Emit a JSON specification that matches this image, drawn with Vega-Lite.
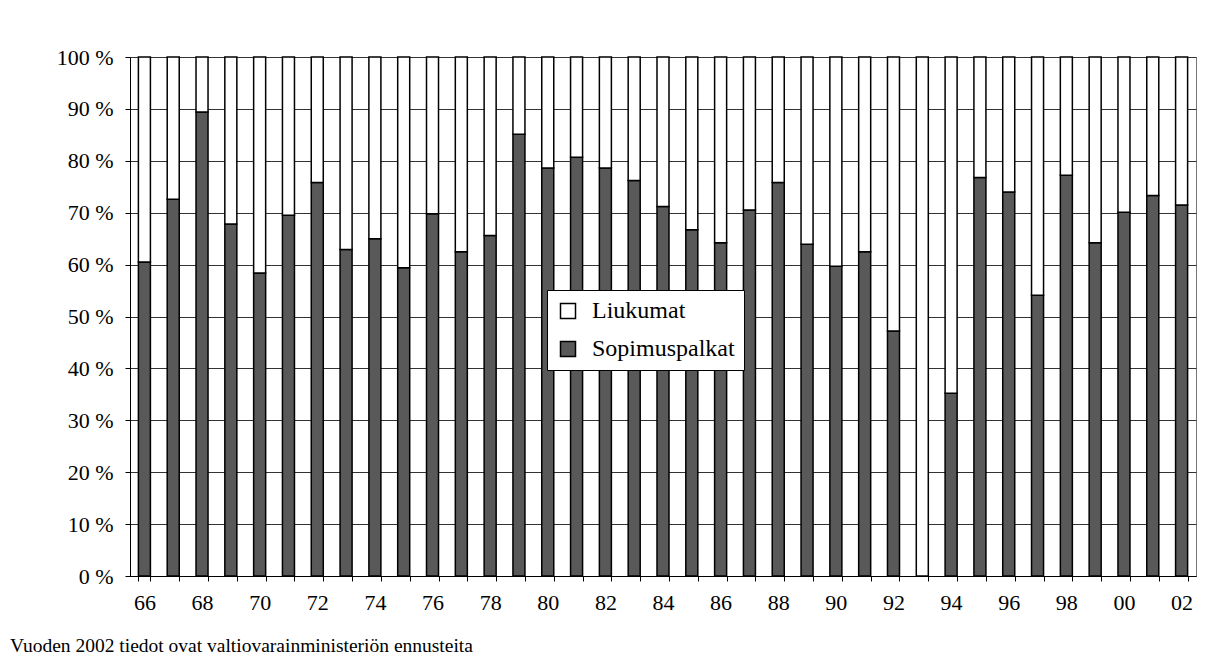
{
  "$schema": "https://vega.github.io/schema/vega-lite/v6.json",
  "width": 1066,
  "height": 519,
  "autosize": {"type": "none"},
  "padding": {"left": 130, "top": 57, "right": 33, "bottom": 91},
  "background": "white",
  "title": {
    "text": "Vuoden 2002 tiedot ovat valtiovarainministeriön ennusteita",
    "orient": "bottom",
    "anchor": "start",
    "frame": "group",
    "dx": -120,
    "offset": 24,
    "font": "Liberation Serif",
    "fontSize": 19.5,
    "fontWeight": "normal",
    "color": "black"
  },
  "data": {
    "values": [
      {"year": 1966, "series": "Sopimuspalkat", "value": 60.5}, {"year": 1966, "series": "Liukumat", "value": 39.5},
      {"year": 1967, "series": "Sopimuspalkat", "value": 72.6}, {"year": 1967, "series": "Liukumat", "value": 27.4},
      {"year": 1968, "series": "Sopimuspalkat", "value": 89.4}, {"year": 1968, "series": "Liukumat", "value": 10.6},
      {"year": 1969, "series": "Sopimuspalkat", "value": 67.8}, {"year": 1969, "series": "Liukumat", "value": 32.2},
      {"year": 1970, "series": "Sopimuspalkat", "value": 58.4}, {"year": 1970, "series": "Liukumat", "value": 41.6},
      {"year": 1971, "series": "Sopimuspalkat", "value": 69.5}, {"year": 1971, "series": "Liukumat", "value": 30.5},
      {"year": 1972, "series": "Sopimuspalkat", "value": 75.8}, {"year": 1972, "series": "Liukumat", "value": 24.2},
      {"year": 1973, "series": "Sopimuspalkat", "value": 62.9}, {"year": 1973, "series": "Liukumat", "value": 37.1},
      {"year": 1974, "series": "Sopimuspalkat", "value": 65.0}, {"year": 1974, "series": "Liukumat", "value": 35.0},
      {"year": 1975, "series": "Sopimuspalkat", "value": 59.4}, {"year": 1975, "series": "Liukumat", "value": 40.6},
      {"year": 1976, "series": "Sopimuspalkat", "value": 69.8}, {"year": 1976, "series": "Liukumat", "value": 30.2},
      {"year": 1977, "series": "Sopimuspalkat", "value": 62.5}, {"year": 1977, "series": "Liukumat", "value": 37.5},
      {"year": 1978, "series": "Sopimuspalkat", "value": 65.6}, {"year": 1978, "series": "Liukumat", "value": 34.4},
      {"year": 1979, "series": "Sopimuspalkat", "value": 85.1}, {"year": 1979, "series": "Liukumat", "value": 14.9},
      {"year": 1980, "series": "Sopimuspalkat", "value": 78.6}, {"year": 1980, "series": "Liukumat", "value": 21.4},
      {"year": 1981, "series": "Sopimuspalkat", "value": 80.7}, {"year": 1981, "series": "Liukumat", "value": 19.3},
      {"year": 1982, "series": "Sopimuspalkat", "value": 78.6}, {"year": 1982, "series": "Liukumat", "value": 21.4},
      {"year": 1983, "series": "Sopimuspalkat", "value": 76.2}, {"year": 1983, "series": "Liukumat", "value": 23.8},
      {"year": 1984, "series": "Sopimuspalkat", "value": 71.2}, {"year": 1984, "series": "Liukumat", "value": 28.8},
      {"year": 1985, "series": "Sopimuspalkat", "value": 66.7}, {"year": 1985, "series": "Liukumat", "value": 33.3},
      {"year": 1986, "series": "Sopimuspalkat", "value": 64.2}, {"year": 1986, "series": "Liukumat", "value": 35.8},
      {"year": 1987, "series": "Sopimuspalkat", "value": 70.5}, {"year": 1987, "series": "Liukumat", "value": 29.5},
      {"year": 1988, "series": "Sopimuspalkat", "value": 75.8}, {"year": 1988, "series": "Liukumat", "value": 24.2},
      {"year": 1989, "series": "Sopimuspalkat", "value": 63.9}, {"year": 1989, "series": "Liukumat", "value": 36.1},
      {"year": 1990, "series": "Sopimuspalkat", "value": 59.7}, {"year": 1990, "series": "Liukumat", "value": 40.3},
      {"year": 1991, "series": "Sopimuspalkat", "value": 62.5}, {"year": 1991, "series": "Liukumat", "value": 37.5},
      {"year": 1992, "series": "Sopimuspalkat", "value": 47.2}, {"year": 1992, "series": "Liukumat", "value": 52.8},
      {"year": 1993, "series": "Sopimuspalkat", "value": 0.0}, {"year": 1993, "series": "Liukumat", "value": 100.0},
      {"year": 1994, "series": "Sopimuspalkat", "value": 35.2}, {"year": 1994, "series": "Liukumat", "value": 64.8},
      {"year": 1995, "series": "Sopimuspalkat", "value": 76.8}, {"year": 1995, "series": "Liukumat", "value": 23.2},
      {"year": 1996, "series": "Sopimuspalkat", "value": 74.0}, {"year": 1996, "series": "Liukumat", "value": 26.0},
      {"year": 1997, "series": "Sopimuspalkat", "value": 54.1}, {"year": 1997, "series": "Liukumat", "value": 45.9},
      {"year": 1998, "series": "Sopimuspalkat", "value": 77.2}, {"year": 1998, "series": "Liukumat", "value": 22.8},
      {"year": 1999, "series": "Sopimuspalkat", "value": 64.2}, {"year": 1999, "series": "Liukumat", "value": 35.8},
      {"year": 2000, "series": "Sopimuspalkat", "value": 70.1}, {"year": 2000, "series": "Liukumat", "value": 29.9},
      {"year": 2001, "series": "Sopimuspalkat", "value": 73.3}, {"year": 2001, "series": "Liukumat", "value": 26.7},
      {"year": 2002, "series": "Sopimuspalkat", "value": 71.5}, {"year": 2002, "series": "Liukumat", "value": 28.5}
    ]
  },
  "mark": {"type": "bar", "stroke": "black", "strokeWidth": 1.5},
  "encoding": {
    "x": {
      "field": "year",
      "type": "ordinal",
      "scale": {"paddingInner": 0.583, "paddingOuter": 0.2915},
      "axis": {
        "title": null,
        "labelAngle": 0,
        "tickBand": "extent",
        "labelExpr": "datum.value % 2 == 0 ? slice(toString(datum.value), 2) : ''",
        "grid": false,
        "domainColor": "black",
        "tickColor": "black",
        "tickSize": 5,
        "labelPadding": 11,
        "labelFontSize": 22,
        "labelColor": "black"
      }
    },
    "y": {
      "field": "value",
      "type": "quantitative",
      "stack": "zero",
      "scale": {"domain": [0, 100], "nice": false},
      "axis": {
        "title": null,
        "values": [0, 10, 20, 30, 40, 50, 60, 70, 80, 90, 100],
        "labelExpr": "datum.value + ' %'",
        "grid": true,
        "gridColor": "#333333",
        "gridWidth": 1,
        "domainColor": "black",
        "tickColor": "black",
        "tickSize": 5,
        "labelPadding": 12,
        "labelFontSize": 22,
        "labelColor": "black"
      }
    },
    "color": {
      "field": "series",
      "type": "nominal",
      "scale": {"domain": ["Liukumat", "Sopimuspalkat"], "range": ["white", "#595959"]},
      "legend": {
        "title": null,
        "orient": "none",
        "legendX": 417,
        "legendY": 233,
        "symbolType": "square",
        "symbolSize": 225,
        "symbolStrokeColor": "black",
        "symbolStrokeWidth": 1.5,
        "labelFontSize": 24,
        "labelColor": "black",
        "labelOffset": 12,
        "rowPadding": 14,
        "padding": 9,
        "strokeColor": "black",
        "fillColor": "white"
      }
    },
    "order": {"field": "series", "sort": "descending"}
  },
  "config": {
    "font": "Liberation Serif",
    "view": {"stroke": "#777777", "strokeWidth": 1},
    "axis": {"labelFont": "Liberation Serif", "domainWidth": 1, "tickWidth": 1},
    "legend": {"labelFont": "Liberation Serif"}
  }
}
